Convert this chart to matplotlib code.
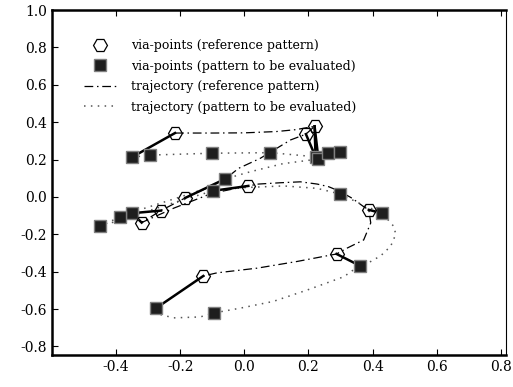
import numpy as np
import matplotlib
matplotlib.use("Agg")
import matplotlib.pyplot as plt

plt.rcParams['font.family'] = ['DejaVu Serif']

# via-points of the reference pattern (hexagons)
ref_x = [-0.216, 0.219, 0.192, -0.184, -0.26, -0.32, 0.0125, 0.388, 0.2875, -0.128]
ref_y = [0.342, 0.378, 0.336, -0.005, -0.073, -0.137, 0.059, -0.069, -0.305, -0.423]

# via-points of the pattern to be evaluated (squares)
eval_x = [-0.351, -0.294, -0.101, 0.081, 0.222, 0.231, 0.262, 0.298, -0.059,
          -0.35, -0.3875, -0.45, -0.097, 0.298, 0.43, 0.359, -0.093, -0.275]
eval_y = [0.212, 0.224, 0.234, 0.237, 0.215, 0.203, 0.237, 0.242, 0.097,
          -0.087, -0.106, -0.158, 0.033, 0.016, -0.087, -0.367, -0.62, -0.595]

# correspondences (ref index, eval index)
links = [(0, 0), (1, 4), (1, 5), (2, 4), (3, 8), (6, 12), (4, 9), (5, 9),
         (7, 14), (8, 15), (9, 17)]

# trajectory of the reference pattern
traj_ref_x = [-0.216, -0.1, 0.0, 0.1, 0.16, 0.219, 0.192, 0.144, 0.05, -0.018,
              -0.059, -0.12, -0.184, -0.26, -0.32, -0.22, -0.1, 0.0125, 0.044,
              0.1125, 0.175, 0.227, 0.2625, 0.298, 0.336, 0.372, 0.388, 0.394,
              0.372, 0.32, 0.2875, 0.165, 0.04, -0.085, -0.128]
traj_ref_y = [0.342, 0.342, 0.343, 0.35, 0.36, 0.378, 0.336, 0.305, 0.207, 0.153,
              0.097, 0.045, -0.005, -0.073, -0.137, -0.06, 0.02, 0.059, 0.069,
              0.076, 0.081, 0.069, 0.055, 0.03, -0.007, -0.052, -0.069, -0.139,
              -0.23, -0.274, -0.305, -0.345, -0.381, -0.406, -0.423]

# trajectory of the pattern to be evaluated
traj_eval_x = [-0.351, -0.294, -0.101, 0.081, 0.222, 0.262, 0.298, 0.231, 0.12,
               0.019, -0.059, -0.11, -0.2, -0.33, -0.35, -0.3875, -0.45, -0.3,
               -0.2, -0.097, 0.0, 0.122, 0.227, 0.298, 0.36, 0.43, 0.466, 0.472,
               0.456, 0.425, 0.383, 0.359, 0.31, 0.196, 0.09, -0.0125, -0.093,
               -0.1375, -0.22, -0.26, -0.275]
traj_eval_y = [0.212, 0.224, 0.234, 0.237, 0.215, 0.237, 0.242, 0.203, 0.178,
               0.135, 0.097, 0.051, 0.0, -0.071, -0.087, -0.106, -0.158, -0.075,
               -0.02, 0.033, 0.05, 0.059, 0.046, 0.016, -0.035, -0.087, -0.158,
               -0.2, -0.264, -0.315, -0.356, -0.367, -0.427, -0.498, -0.559,
               -0.595, -0.62, -0.642, -0.647, -0.63, -0.595]

xticks = [-0.4, -0.2, 0.0, 0.2, 0.4, 0.6, 0.8]
yticks = [-0.8, -0.6, -0.4, -0.2, 0.0, 0.2, 0.4, 0.6, 0.8, 1.0]

fig = plt.figure(figsize=(5.13, 3.87), dpi=100)
ax = fig.add_axes([0.101, 0.083, 0.885, 0.891])

ax.plot(traj_ref_x, traj_ref_y, color='black', lw=0.9,
        dashes=(7, 3, 1.2, 3), label='trajectory (reference pattern)', zorder=2)
ax.plot(traj_eval_x, traj_eval_y, color='#555555', lw=1.1,
        dashes=(1, 3.5), label='trajectory (pattern to be evaluated)', zorder=2)

for r, e in links:
    ax.plot([ref_x[r], eval_x[e]], [ref_y[r], eval_y[e]], color='black',
            lw=1.8, zorder=3)

ax.plot(eval_x, eval_y, ls='none', marker='s', ms=9, mfc='#1e1e1e',
        mec='#808080', mew=1.0, label='via-points (pattern to be evaluated)',
        zorder=4)
ax.plot(ref_x, ref_y, ls='none', marker='H', ms=10, mfc='none',
        mec='black', mew=0.9, label='via-points (reference pattern)', zorder=5)

handles, labels = ax.get_legend_handles_labels()
order = [3, 2, 0, 1]
ax.legend([handles[i] for i in order], [labels[i] for i in order],
          loc='upper left', bbox_to_anchor=(0.07, 0.915), frameon=False,
          fontsize=9, handlelength=2.6, handletextpad=1.2, labelspacing=0.6,
          borderpad=0, borderaxespad=0)

ax.set_xlim(-0.6, 0.815)
ax.set_ylim(-0.845, 1.0)
ax.set_xticks(xticks)
ax.set_yticks(yticks)
ax.set_xticklabels(['%.1f' % v for v in xticks])
ax.set_yticklabels(['%.1f' % v for v in yticks])
ax.tick_params(direction='in', length=4, width=0.8, labelsize=10,
               top=True, right=False)

for s in ['top', 'left', 'bottom']:
    ax.spines[s].set_linewidth(1.8)
ax.spines['right'].set_linewidth(0.8)

fig.savefig('out.png', dpi=100)
